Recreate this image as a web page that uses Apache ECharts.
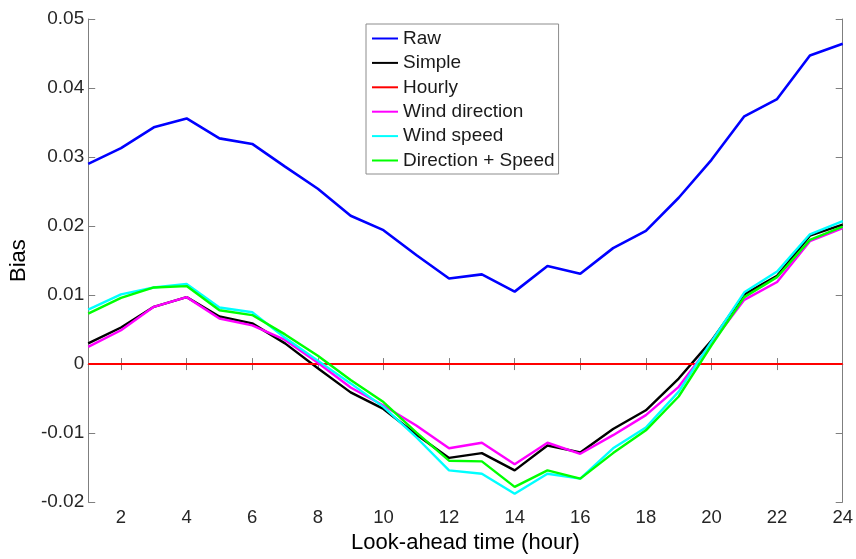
<!DOCTYPE html>
<html>
<head>
<meta charset="utf-8">
<script src="https://cdn.jsdelivr.net/npm/echarts@6/dist/echarts.min.js"></script>
<style>
html,body{margin:0;padding:0;background:#fff;}
#chart{width:856px;height:559px;}
</style>
</head>
<body>
<div id="chart"></div>
<script>
// Look-ahead time (hour)
var hours = [1,2,3,4,5,6,7,8,9,10,11,12,13,14,15,16,17,18,19,20,21,22,23,24];
var xTickValues = [2,4,6,8,10,12,14,16,18,20,22,24];
var seriesNames = ['Raw','Simple','Hourly','Wind direction','Wind speed','Direction + Speed'];

var raw = [0.0290,0.0313,0.0343,0.0356,0.0327,0.0319,0.0286,0.0254,0.0215,0.0194,0.0158,0.0124,0.0130,0.0105,0.0142,0.0131,0.0168,0.0193,0.0241,0.0296,0.0359,0.0384,0.0447,0.0464];
var simple = [0.0030,0.0053,0.0083,0.0097,0.0069,0.0059,0.0030,-0.0006,-0.0041,-0.0065,-0.0102,-0.0136,-0.0129,-0.0154,-0.0118,-0.0128,-0.0094,-0.0067,-0.0021,0.0034,0.0101,0.0128,0.0186,0.0202];
var hourly = [0,0,0,0,0,0,0,0,0,0,0,0,0,0,0,0,0,0,0,0,0,0,0,0];
var windDirection = [0.0025,0.0049,0.0083,0.0097,0.0066,0.0056,0.0035,0.0002,-0.0034,-0.0060,-0.0089,-0.0122,-0.0114,-0.0145,-0.0114,-0.0130,-0.0103,-0.0074,-0.0033,0.0030,0.0093,0.0119,0.0178,0.0197];
var windSpeed = [0.0079,0.0101,0.0111,0.0116,0.0082,0.0075,0.0038,0.0005,-0.0028,-0.0062,-0.0106,-0.0154,-0.0159,-0.0188,-0.0159,-0.0166,-0.0122,-0.0092,-0.0040,0.0033,0.0104,0.0134,0.0188,0.0207];
var dirSpeed = [0.0073,0.0096,0.0111,0.0113,0.0078,0.0071,0.0043,0.0012,-0.0023,-0.0055,-0.0099,-0.0140,-0.0141,-0.0178,-0.0154,-0.0166,-0.0129,-0.0096,-0.0047,0.0027,0.0097,0.0126,0.0180,0.0199];

var colors = ['#0000ff','#000000','#ff0000','#ff00ff','#00ffff','#00ff00'];
var widths = [2.6, 2.4, 2.0, 2.4, 2.4, 2.4];
var dataSets = [raw, simple, hourly, windDirection, windSpeed, dirSpeed];

var FONT = '"Liberation Sans", Arial, sans-serif';
var axisGray = '#7f7f7f';
var labelColor = '#262626';

function pairs(arr){ return hours.map(function(h,i){ return [h, arr[i]]; }); }

var series = seriesNames.map(function(n, i){
  return {
    name: n, type: 'line', data: pairs(dataSets[i]),
    xAxisIndex: 0, yAxisIndex: 0,
    symbol: 'none', animation: false,
    lineStyle: { color: colors[i], width: widths[i] },
    itemStyle: { color: colors[i] }
  };
});

var chart = echarts.init(document.getElementById('chart'), null, {renderer: 'canvas'});
chart.setOption({
  animation: false,
  backgroundColor: '#ffffff',
  textStyle: { fontFamily: FONT },
  grid: { left: 82, right: 12, top: 19, bottom: 46, containLabel: false },
  legend: {
    orient: 'vertical', left: 366, top: 24,
    data: seriesNames,
    itemWidth: 26, itemHeight: 14, itemGap: 5.4,
    padding: [5, 4, 4, 6],
    backgroundColor: '#ffffff', borderColor: '#8c8c8c', borderWidth: 1,
    textStyle: { fontFamily: FONT, fontSize: 19, color: '#1a1a1a', lineHeight: 18 },
    icon: 'path://M0,6 L26,6 L26,8 L0,8 Z'
  },
  xAxis: [{
    type: 'value', min: 1, max: 24, position: 'bottom',
    name: 'Look-ahead time (hour)', nameLocation: 'middle', nameGap: 27,
    nameTextStyle: { fontFamily: FONT, fontSize: 22, color: '#000' },
    axisLine: { show: true, lineStyle: { color: axisGray, width: 1 } },
    axisTick: { show: true, inside: true, length: 6, customValues: xTickValues, lineStyle: { color: axisGray } },
    axisLabel: { customValues: xTickValues, fontFamily: FONT, fontSize: 18.5, color: labelColor, margin: 6 },
    splitLine: { show: false }
  },{
    type: 'value', min: 1, max: 24, position: 'top',
    axisLine: { show: true, lineStyle: { color: axisGray, width: 1 } },
    axisTick: { show: true, inside: true, length: 6, customValues: xTickValues, lineStyle: { color: axisGray } },
    axisLabel: { show: false },
    splitLine: { show: false }
  }],
  yAxis: [{
    type: 'value', min: -0.02, max: 0.05, interval: 0.01, position: 'left',
    name: 'Bias', nameLocation: 'middle', nameGap: 55,
    nameTextStyle: { fontFamily: FONT, fontSize: 22, color: '#000' },
    axisLine: { show: true, lineStyle: { color: axisGray, width: 1 } },
    axisTick: { show: true, inside: true, length: 7, lineStyle: { color: axisGray } },
    axisLabel: { fontFamily: FONT, fontSize: 19, color: labelColor, margin: 4 },
    splitLine: { show: false }
  },{
    type: 'value', min: -0.02, max: 0.05, interval: 0.01, position: 'right',
    axisLine: { show: true, lineStyle: { color: axisGray, width: 1 } },
    axisTick: { show: true, inside: true, length: 7, lineStyle: { color: axisGray } },
    axisLabel: { show: false },
    splitLine: { show: false }
  }],
  series: series
});
</script>
</body>
</html>
